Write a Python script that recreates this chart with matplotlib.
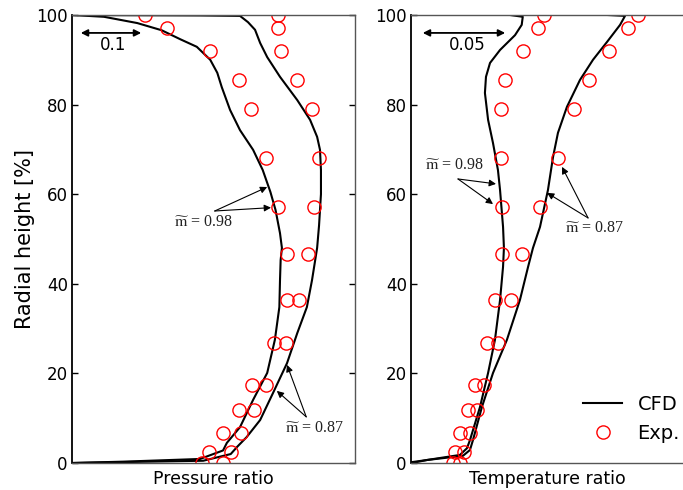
import matplotlib.pyplot as plt

plt.rcParams['mathtext.fontset'] = 'stix'

# measured radial heights of the probe points [%]
exp_height = [100, 97.1, 92.0, 85.5, 79.0, 68.1, 57.1, 46.7, 36.4, 26.8, 17.4, 11.8, 6.7, 2.5, 0]

# pressure ratio (offset, arbitrary origin)
p_exp_098 = [0.114, 0.148, 0.216, 0.261, 0.280, 0.303, 0.322, 0.336, 0.336, 0.315, 0.281, 0.261, 0.236, 0.214, 0.203]
p_exp_087 = [0.322, 0.322, 0.327, 0.352, 0.375, 0.386, 0.378, 0.369, 0.355, 0.334, 0.303, 0.284, 0.264, 0.248, 0.236]

p_cfd_098_x = [0.0, 0.050, 0.102, 0.140, 0.169, 0.195, 0.216, 0.227, 0.234, 0.247, 0.2625, 0.283, 0.298,
               0.310, 0.318, 0.325, 0.328, 0.326, 0.325, 0.324, 0.317, 0.305, 0.283, 0.2625, 0.242,
               0.236, 0.200, 0.08, 0.0]
p_cfd_098_y = [100, 99.6, 98.2, 96.6, 94.6, 92.9, 90.0, 87.1, 83.9, 78.8, 74.3, 69.9, 65.4,
               60.5, 56.5, 51.3, 48.0, 45.3, 40.8, 34.8, 27.5, 20.1, 14.1, 8.0, 4.5,
               2.8, 0.9, 0.3, 0.0]
p_cfd_087_x = [0.0, 0.20, 0.2625, 0.275, 0.286, 0.294, 0.305, 0.325, 0.352, 0.372, 0.383, 0.3875, 0.389,
               0.389, 0.386, 0.383, 0.380, 0.375, 0.367, 0.352, 0.336, 0.314, 0.294, 0.273, 0.258,
               0.248, 0.205, 0.08, 0.0]
p_cfd_087_y = [100, 99.9, 99.8, 98.4, 96.7, 93.75, 90.6, 86.2, 81.0, 76.6, 72.8, 69.9, 65.4,
               60.0, 53.0, 48.0, 45.3, 40.8, 34.8, 29.0, 22.3, 15.6, 9.6, 5.8, 3.6,
               2.0, 0.5, 0.2, 0.0]

# temperature ratio (offset, arbitrary origin)
t_exp_098 = [0.0758, 0.0724, 0.0636, 0.0536, 0.0511, 0.0511, 0.0517, 0.0517, 0.0477, 0.0430, 0.0364, 0.0322, 0.0280, 0.0250, 0.0240]
t_exp_087 = [0.1292, 0.1233, 0.1125, 0.1010, 0.0928, 0.0835, 0.0733, 0.0633, 0.0566, 0.0496, 0.0417, 0.0375, 0.0335, 0.0301, 0.0278]

t_cfd_098_x = [0.0563, 0.0635, 0.0629, 0.0591, 0.0506, 0.0449, 0.0426, 0.0420, 0.0438, 0.0466, 0.0494,
               0.0506, 0.0523, 0.0528, 0.0523, 0.0506, 0.0477, 0.0438, 0.0392, 0.0335, 0.0318, 0.0278,
               0.0091, 0.0006]
t_cfd_098_y = [100, 99.6, 97.8, 95.5, 92.2, 89.3, 86.2, 82.6, 76.6, 71.4, 65.4,
               60.9, 52.7, 48.0, 43.8, 36.4, 27.5, 20.1, 12.5, 5.1, 3.3, 1.8,
               0.67, 0.2]
t_cfd_087_x = [0.1119, 0.1216, 0.1188, 0.1114, 0.1034, 0.0960, 0.0886, 0.0835, 0.0807, 0.0778, 0.0733,
               0.0693, 0.0665, 0.0619, 0.0545, 0.0466, 0.0403, 0.0352, 0.0335, 0.0295, 0.0091, 0.0006]
t_cfd_087_y = [100, 99.8, 97.8, 94.0, 90.0, 85.5, 79.5, 73.7, 68.3, 60.9, 52.7,
               48.0, 43.75, 36.4, 27.5, 20.1, 12.5, 5.1, 2.9, 1.6, 0.67, 0.0]

fig = plt.figure(figsize=(6.83, 4.90), dpi=100)
ax1 = fig.add_axes([72 / 683, 1 - 463 / 490, 283 / 683, 448 / 490])
ax2 = fig.add_axes([411 / 683, 1 - 463 / 490, 273 / 683, 448 / 490])

mlab = r'$\widetilde{\mathrm{m}}$'
note_kw = dict(fontsize=11.5, family='Liberation Serif', ha='center', va='center', color='#222222')
arrow_kw = dict(arrowstyle='-|>', color='black', lw=0.8, mutation_scale=10, shrinkA=0, shrinkB=0)


def style(ax, right_spine=True):
    ax.set_ylim(0, 100)
    ax.set_yticks([0, 20, 40, 60, 80, 100])
    ax.set_xticks([])
    ax.tick_params(axis='y', direction='in', length=4, width=1, labelsize=12, pad=3,
                   right=right_spine)
    ax.spines['left'].set_color('black')
    ax.spines['left'].set_linewidth(1.3)
    for s in ['top', 'bottom', 'right']:
        ax.spines[s].set_color('#555555')
        ax.spines[s].set_linewidth(1.0)
    if not right_spine:
        ax.spines['right'].set_visible(False)


# pressure panel
ax1.plot(p_cfd_098_x, p_cfd_098_y, color='black', lw=1.5)
ax1.plot(p_cfd_087_x, p_cfd_087_y, color='black', lw=1.5)
ax1.plot(p_exp_098, exp_height, 'o', mfc='none', mec='red', ms=9.5, mew=1.0)
ax1.plot(p_exp_087, exp_height, 'o', mfc='none', mec='red', ms=9.5, mew=1.0)
ax1.set_xlim(0, 283 / 640)
style(ax1)
ax1.set_xlabel('Pressure ratio', fontsize=12.5, labelpad=5)
ax1.set_ylabel('Radial height [%]', fontsize=15, labelpad=1)

ax1.annotate('', xy=(0.1125, 96.0), xytext=(0.0094, 96.0),
             arrowprops=dict(arrowstyle='<|-|>', color='black', lw=1.3, mutation_scale=10))
ax1.text(0.064, 93.3, '0.1', fontsize=12, ha='center', va='center')

ax1.text(0.205, 53.7, mlab + ' = 0.98', **note_kw)
for end in [(0.305, 61.6), (0.311, 57.0)]:
    ax1.annotate('', xy=end, xytext=(0.223, 56.25), arrowprops=arrow_kw)
ax1.text(0.379, 7.8, mlab + ' = 0.87', **note_kw)
for end in [(0.336, 21.9), (0.320, 16.1)]:
    ax1.annotate('', xy=end, xytext=(0.366, 10.3), arrowprops=arrow_kw)

# temperature panel
ax2.plot(t_cfd_098_x, t_cfd_098_y, color='black', lw=1.5, label='CFD')
ax2.plot(t_cfd_087_x, t_cfd_087_y, color='black', lw=1.5)
ax2.plot(t_exp_098, exp_height, 'o', mfc='none', mec='red', ms=9.5, mew=1.0, label='Exp.')
ax2.plot(t_exp_087, exp_height, 'o', mfc='none', mec='red', ms=9.5, mew=1.0)
ax2.set_xlim(0, 273 / 1760)
style(ax2, right_spine=False)
ax2.set_xlabel('Temperature ratio', fontsize=12.5, labelpad=5)

ax2.annotate('', xy=(0.0551, 96.0), xytext=(0.0051, 96.0),
             arrowprops=dict(arrowstyle='<|-|>', color='black', lw=1.3, mutation_scale=10))
ax2.text(0.0318, 93.3, '0.05', fontsize=12, ha='center', va='center')

ax2.text(0.0244, 66.5, mlab + ' = 0.98', **note_kw)
for end in [(0.0483, 62.3), (0.0466, 57.8)]:
    ax2.annotate('', xy=end, xytext=(0.0267, 63.4), arrowprops=arrow_kw)
ax2.text(0.1042, 52.5, mlab + ' = 0.87', **note_kw)
for end in [(0.0858, 66.1), (0.0773, 60.3)]:
    ax2.annotate('', xy=end, xytext=(0.1006, 54.7), arrowprops=arrow_kw)

ax2.legend(loc='lower right', bbox_to_anchor=(1.035, 0.015), frameon=False, fontsize=14,
           handlelength=2.0, handletextpad=0.8, borderaxespad=0.3, labelspacing=0.5)

fig.savefig('out.png', dpi=100)
